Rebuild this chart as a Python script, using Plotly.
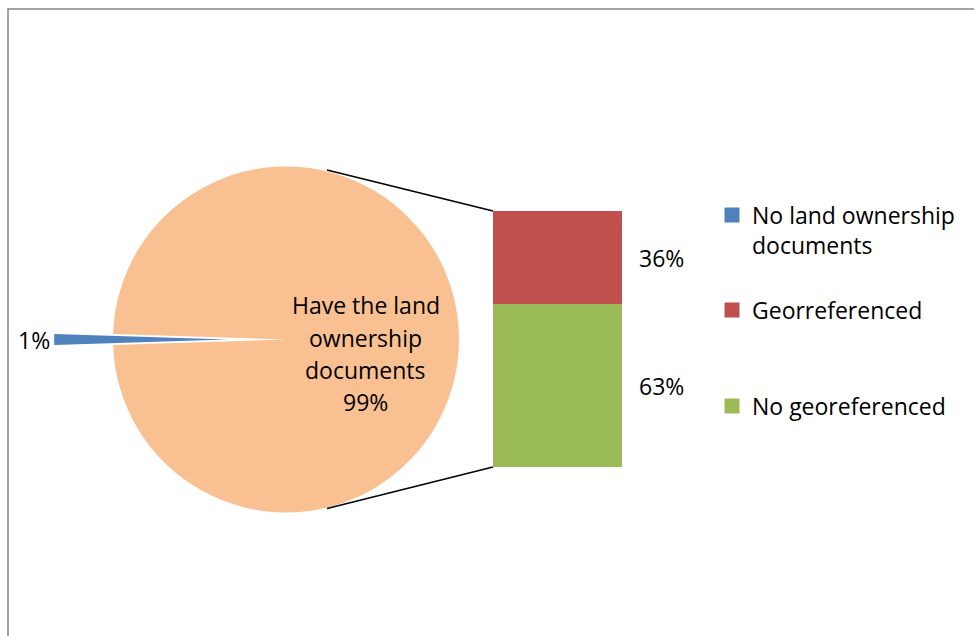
import plotly.graph_objects as go

# ---- data ----
pie_labels = ["No land ownership documents", "Have the land ownership documents"]
pie_values = [1, 99]
pie_colors = ["#4F81BD", "#F9C091"]
pie_text_lines = ["Have the land", "ownership", "documents"]

bar_labels = ["No georeferenced", "Georreferenced"]
bar_values = [63, 36]
bar_colors = ["#9BBB59", "#C0504D"]

W, H = 974, 636
FONT = "Open Sans"
FS = 23
TXT = "#000000"


def px_x(x):
    return x / W


def px_y(y):
    return (H - y) / H


# pie geometry (pixels)
cx, cy, r = 286.0, 339.5, 173.0
pull = 0.34
half = r * (1 + pull)

# bar geometry (pixels)
bx0, bx1, by_top, by_bot = 493, 622, 211, 467

fig = go.Figure()

fig.add_trace(go.Pie(
    labels=pie_labels,
    values=pie_values,
    marker=dict(colors=pie_colors, line=dict(width=0)),
    sort=False,
    direction="clockwise",
    rotation=270 - 360 * pie_values[0] / sum(pie_values) / 2,
    pull=[pull, 0],
    textinfo="none",
    showlegend=False,
    domain=dict(x=[px_x(cx - half), px_x(cx + half)],
                y=[px_y(cy + half), px_y(cy - half)]),
))

for lab, val, col in zip(bar_labels, bar_values, bar_colors):
    fig.add_trace(go.Bar(
        x=[0], y=[val], name=lab, width=1,
        marker=dict(color=col, line=dict(width=0)),
        showlegend=False,
    ))

# legend entries, each in its own legend box
legend_items = [
    (pie_labels[0].replace(" documents", "<br>documents"), pie_colors[0], "legend"),
    (bar_labels[1], bar_colors[1], "legend2"),
    (bar_labels[0], bar_colors[0], "legend3"),
]
for name, col, lg in legend_items:
    fig.add_trace(go.Scatter(
        x=[None], y=[None], mode="markers", name=name, legend=lg,
        marker=dict(symbol="square", size=15, color=col),
        showlegend=True,
    ))

leg_common = dict(font=dict(family=FONT, size=FS, color=TXT),
                  bgcolor="rgba(0,0,0,0)", borderwidth=0,
                  xanchor="left", yanchor="middle", itemclick=False,
                  itemdoubleclick=False)
lx = px_x(712)

annotations = []
# pie labels
pct_small = round(100 * pie_values[0] / sum(pie_values))
pct_big = round(100 * pie_values[1] / sum(pie_values))
annotations.append(dict(x=px_x(16), y=px_y(340), xref="paper", yref="paper",
                        text=f"{pct_small}%", showarrow=False,
                        xanchor="left", yanchor="middle"))
big_lines = pie_text_lines + [f"{pct_big}%"]
line_y = [305, 337.5, 370, 402.5]
for t, yy in zip(big_lines, line_y):
    annotations.append(dict(x=px_x(365.5), y=px_y(yy), xref="paper", yref="paper",
                            text=t, showarrow=False,
                            xanchor="center", yanchor="middle"))

# bar labels at the middle of each stacked segment
base = 0
for val in bar_values:
    annotations.append(dict(x=0.5, y=base + val / 2, xref="x", yref="y",
                            text=f"{val}%", showarrow=False, xshift=15,
                            xanchor="left", yanchor="middle"))
    base += val

shapes = [
    # chart frame
    dict(type="rect", xref="paper", yref="paper",
         x0=px_x(8), x1=1.05, y0=-0.05, y1=px_y(9),
         line=dict(color="#868686", width=1.5), fillcolor="rgba(0,0,0,0)",
         layer="below"),
    # connector lines from the pie to the bar
    dict(type="line", xref="paper", yref="paper",
         x0=px_x(327), y0=px_y(170), x1=px_x(bx0), y1=px_y(by_top),
         line=dict(color="#000000", width=1.8)),
    dict(type="line", xref="paper", yref="paper",
         x0=px_x(327), y0=px_y(508.5), x1=px_x(bx0), y1=px_y(by_bot),
         line=dict(color="#000000", width=1.8)),
]

fig.update_layout(
    width=W, height=H,
    margin=dict(l=0, r=0, t=0, b=0),
    paper_bgcolor="white", plot_bgcolor="rgba(0,0,0,0)",
    font=dict(family=FONT, size=FS, color=TXT),
    barmode="stack",
    xaxis=dict(domain=[px_x(bx0), px_x(bx1)], range=[-0.5, 0.5],
               visible=False, fixedrange=True),
    yaxis=dict(domain=[px_y(by_bot), px_y(by_top)], range=[0, sum(bar_values)],
               visible=False, fixedrange=True),
    legend=dict(x=lx, y=px_y(230), valign="top", **leg_common),
    legend2=dict(x=lx, y=px_y(310), **leg_common),
    legend3=dict(x=lx, y=px_y(406), **leg_common),
    annotations=annotations,
    shapes=shapes,
    showlegend=True,
)

fig.write_html("out.html")
